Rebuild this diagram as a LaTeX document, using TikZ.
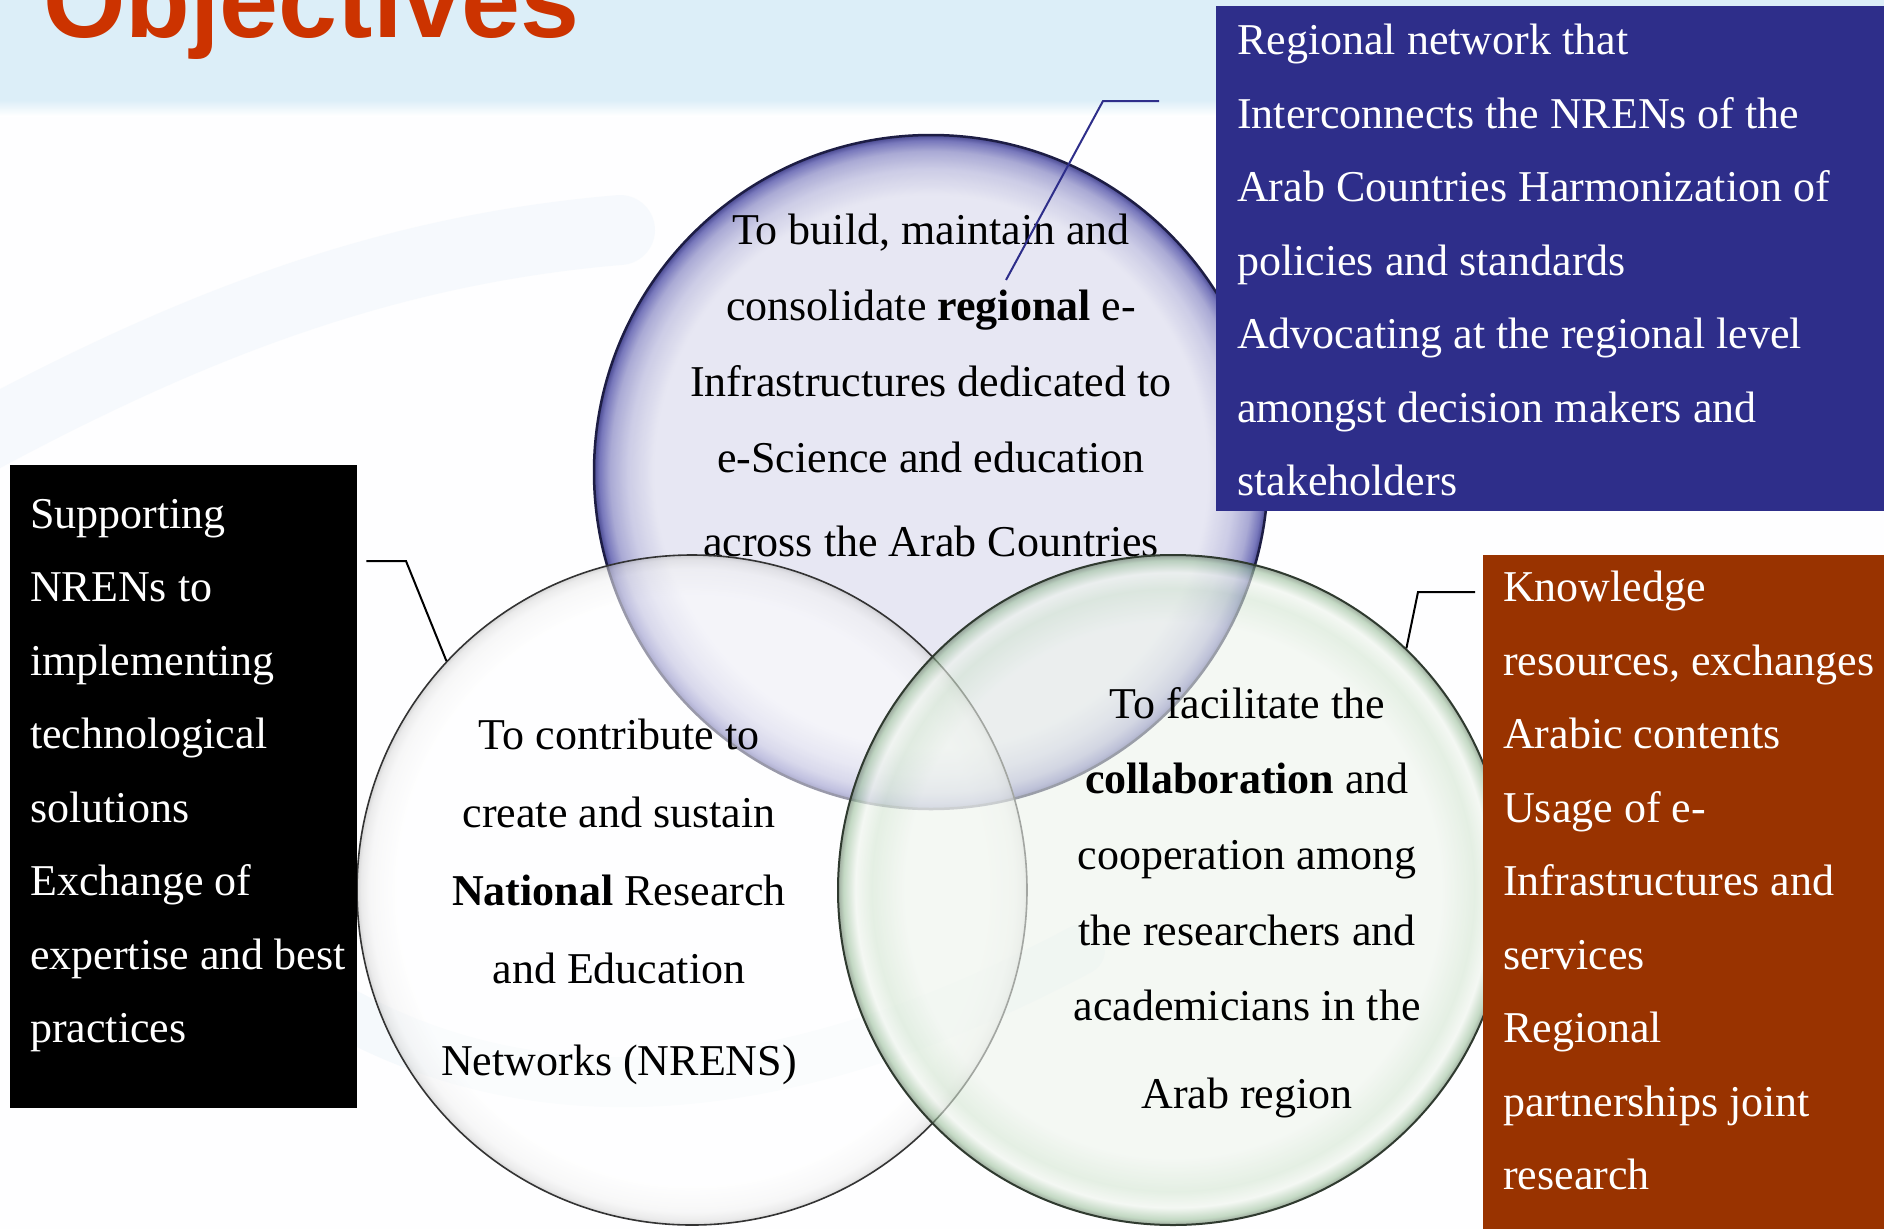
\documentclass[tikz,border=0pt]{standalone}
\usepackage{fontspec}
\setmainfont{Liberation Serif}
\newfontfamily\headfont{Liberation Sans}
\usetikzlibrary{positioning}

\definecolor{headred}{HTML}{CC3300}
\definecolor{netblue}{HTML}{2E2E8A}
\definecolor{resbrown}{HTML}{993300}
\definecolor{skyband}{HTML}{DCEEF8}
\definecolor{swoosh}{HTML}{CFE3F2}
\definecolor{lavin}{HTML}{E6E6F2}
\definecolor{lavmid}{HTML}{C8C8E4}
\definecolor{lavrim}{HTML}{6C6CB6}
\definecolor{lavedge}{HTML}{3A3A88}
\definecolor{greenin}{HTML}{EEF4EC}
\definecolor{greenmid}{HTML}{D4E6D2}
\definecolor{greenrim}{HTML}{9CC09C}

% circle edge sits at 25bp of the shading
\pgfdeclareradialshading{regionalglass}{\pgfpoint{0bp}{0bp}}{%
  color(0bp)=(lavin); color(20.5bp)=(lavin); color(22.5bp)=(lavmid);
  color(23.8bp)=(lavmid!60!lavrim); color(24.6bp)=(lavrim); color(25bp)=(lavedge);
  color(50bp)=(lavedge)}
\pgfdeclareradialshading{nationalglass}{\pgfpoint{0bp}{0bp}}{%
  color(0bp)=(white); color(22bp)=(white); color(24bp)=(black!5);
  color(24.7bp)=(black!14); color(25bp)=(black!28); color(50bp)=(black!28)}
\pgfdeclareradialshading{collabglass}{\pgfpoint{0bp}{0bp}}{%
  color(0bp)=(greenin); color(20bp)=(greenin); color(22.5bp)=(greenmid);
  color(23.7bp)=(greenin); color(24.6bp)=(greenrim); color(25bp)=(greenrim!60!black);
  color(50bp)=(greenrim!60!black)}

\begin{document}
\begin{tikzpicture}[x=1pt, y=-1pt,
  bubble/.style={circle, inner sep=0pt, minimum size=#1},
  bubbletext/.style={anchor=north, align=center, inner sep=0pt},
  panel/.style={anchor=north west, inner sep=0pt, fill=#1},
  paneltext/.style={anchor=north west, align=left, inner sep=0pt, text=white,
    font=\fontsize{44}{73.5}\selectfont},
  callout/.style={line width=2pt}]

\useasboundingbox (0,0) rectangle (1884,1229);
\clip (0,0) rectangle (1884,1229);

% background
\fill[white!97!skyband] (0,0) rectangle (1884,1229);
\fill[skyband] (0,0) rectangle (1884,100);
\shade[top color=skyband, bottom color=white] (0,100) rectangle (1884,116);
\draw[swoosh, opacity=.15, line width=70pt, line cap=round]
  (-40,450) .. controls (180,330) and (380,250) .. (620,230);
\draw[swoosh, opacity=.18, line width=50pt, line cap=round]
  (340,1010) .. controls (520,1110) and (760,1120) .. (1080,950);

% title
\node[anchor=base west, inner sep=0pt, text=headred,
  font=\headfont\bfseries\fontsize{106}{106}\selectfont] (title) at (43,37) {Objectives};

% three circles
\node[bubble=674pt, shading=regionalglass, draw=lavedge!50!black, line width=2.5pt,
  fill opacity=.92] (regional) at (931,472) {};
\node[bubbletext, font=\fontsize{44}{76}\selectfont] (regionaltext) at (931,214)
  {To build, maintain and\\ consolidate \textbf{regional} e-\\ Infrastructures dedicated to\\
   e-Science and education\\[8pt] across the Arab Countries};
\node[bubble=670pt, shading=nationalglass, draw=black!80, line width=1.6pt,
  fill opacity=.55] (national) at (692,890) {};
\node[bubble=670pt, shading=collabglass, draw=greenrim!30!black, line width=2pt,
  fill opacity=.6] (collab) at (1173,890) {};
\node[bubbletext, font=\fontsize{44}{78}\selectfont] (nationaltext) at (619,719)
  {To contribute to\\ create and sustain\\ \textbf{National} Research\\ and Education\\[14pt]
   Networks (NRENS)};
\node[bubbletext, font=\fontsize{44}{75.7}\selectfont] (collabtext) at (1247,687)
  {To facilitate the\\ \textbf{collaboration} and\\ cooperation among\\ the researchers and\\
   academicians in the\\[12pt] Arab region};

% boxes
\node[panel=netblue, minimum width=668pt, minimum height=505pt] (network) at (1216,6) {};
\node[paneltext] (networktext) at (1237,24)
  {Regional network that\\ Interconnects the NRENs of the\\ Arab Countries Harmonization of\\
   policies and standards\\ Advocating at the regional level\\ amongst decision makers and\\
   stakeholders};
\node[panel=black, minimum width=347pt, minimum height=643pt] (support) at (10,465) {};
\node[paneltext] (supporttext) at (30,499)
  {Supporting\\ NRENs to\\ implementing\\ technological\\ solutions\\ Exchange of\\
   expertise and best\\ practices};
\node[panel=resbrown, minimum width=401pt, minimum height=674pt] (knowledge) at (1483,555) {};
\node[paneltext] (knowledgetext) at (1503,571)
  {Knowledge\\ resources, exchanges\\ Arabic contents\\ Usage of e-\\ Infrastructures and\\
   services\\ Regional\\ partnerships joint\\ research};

% callouts
\coordinate (netbend) at (1103,101);
\coordinate (nettip) at (1006,280);
\draw[callout, netblue] ([xshift=-57pt]network.west |- netbend) -- (netbend) -- (nettip);
\coordinate (supbend) at (406,561);
\draw[callout] ([xshift=9pt]support.east |- supbend) -- (supbend) -- (national.137);
\coordinate (knowbend) at (1418,592);
\draw[callout] ([xshift=-8pt]knowledge.west |- knowbend) -- (knowbend) -- (collab.46);
\end{tikzpicture}
\end{document}
